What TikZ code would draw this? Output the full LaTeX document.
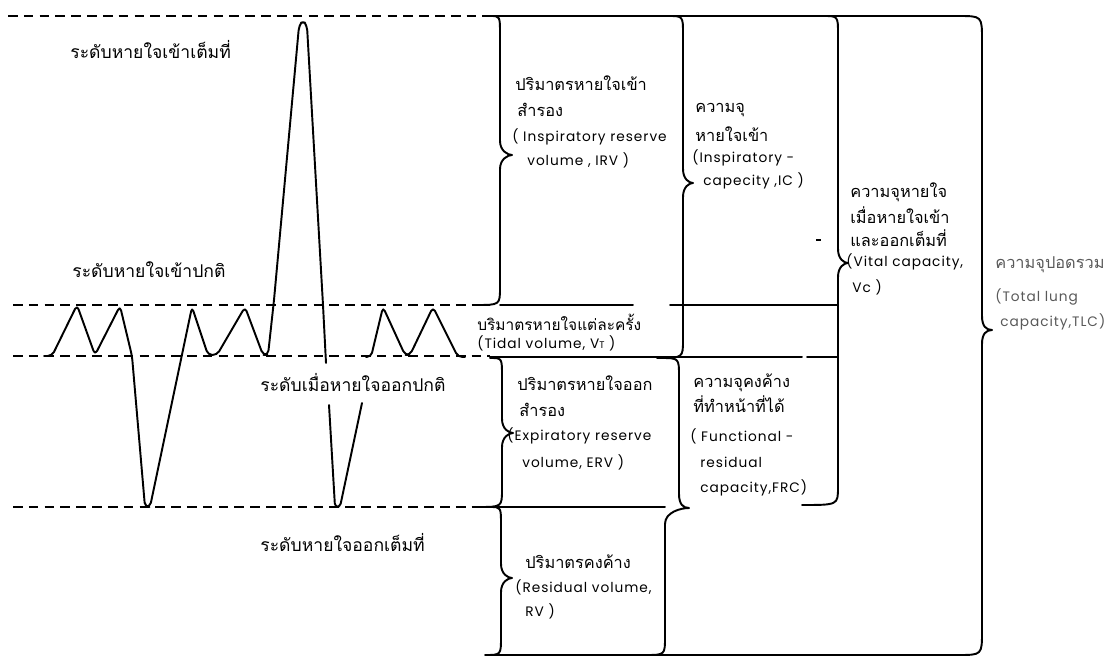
\documentclass[tikz,border=0pt]{standalone}
\usepackage{fontspec}
\setmainfont[Script=Thai]{Loma}
\newfontfamily\lat[LetterSpace=7]{Poppins}
\tikzset{
  ln/.style={line width=1.1pt, line join=round, line cap=round},
  dsh/.style={line width=1pt, dash pattern=on 5.5pt off 3.5pt},
  th/.style={anchor=west, inner sep=0pt, font=\fontsize{10}{12}\selectfont},
  thr/.style={anchor=west, inner sep=0pt, font=\fontsize{9.3}{11}\selectfont},
  en/.style={anchor=west, inner sep=0pt, font=\lat\fontsize{7.8}{9}\selectfont},
  tlc/.style={text=black!65},
}
% xtopend, xspine, xtip, ytop, ytip, ybot, xbotend
\newcommand\mybrace[7]{%
  \draw[ln] (#1,#4) .. controls (#2,#4) .. (#2,{#4+18}) -- (#2,{#5-14})
    .. controls (#2,{#5-4}) and ({#3-4},#5) .. (#3,#5)
    .. controls ({#3-4},#5) and (#2,{#5+4}) .. (#2,{#5+14}) -- (#2,{#6-18})
    .. controls (#2,#6) .. (#7,#6);}
\begin{document}
\begin{tikzpicture}[x=0.2mm,y=-0.2mm]
\useasboundingbox[fill=white] (0,0) rectangle (1116,658);
% dashed levels
\draw[dsh] (8,16) -- (490,16);
\draw[dsh] (13,305) -- (490,305);
\draw[dsh] (13,356) -- (490,356);
\draw[dsh] (13,507) -- (490,507);
% solid horizontal lines and the TLC bracket
\draw[ln] (490,16) -- (958,16) .. controls (982,16) .. (982,40) -- (982,316)
  .. controls (982,326) and (986,330) .. (992,330)
  .. controls (986,330) and (982,334) .. (982,344) -- (982,631)
  .. controls (982,655) .. (958,655) -- (490,655);
\draw[ln] (500,305) -- (633,305);
\draw[ln] (670,305) -- (838,305);
\draw[ln] (490,357) -- (802,357);
\draw[ln] (807,357) -- (838,357);
\draw[ln] (490,507) -- (665,507);
% braces
\mybrace{490}{500}{512}{16}{155}{305}{476}   % IRV
\mybrace{668}{683}{693}{16}{183}{358}{657}   % IC
\mybrace{490}{502}{513}{358}{433}{507}{478}  % ERV
\mybrace{490}{501}{512}{507}{578}{655}{485}  % RV
\mybrace{823}{838}{848}{16}{263}{505}{802}   % VC
% FRC brace (slanted lower part)
\draw[ln] (660,358) .. controls (679,358) .. (679,376) -- (679,494)
  .. controls (679,504) and (683,508) .. (689,508)
  .. controls (681,508) and (665,512) .. (665,524) -- (665,637)
  .. controls (665,655) .. (645,655);
% stray mark
\draw[line width=0.8pt] (816,240) -- (821,240);
% waveform
\draw[ln, rounded corners=2.5pt] (44,356) -- (52,356) -- (77,305) -- (95,355) -- (120,306)
  -- (132,356) -- (145,507) -- (150,507) -- (192,307) -- (208,355) -- (217,355)
  -- (245,307) -- (263,355) -- (268,355) -- (274,300) -- (299,26) -- (303,20)
  -- (307,26) -- (323,305) -- (326,363);
\draw[ln, rounded corners=2pt] (329,405) -- (335,507) -- (340,507) -- (362,403);
\draw[ln, rounded corners=2.5pt] (366,357) -- (371,357) -- (383,307) -- (405,355)
  -- (410,355) -- (433,307) -- (458,357) -- (465,357);
% left labels
\node[th] (l1) at (70,50) {ระดับหายใจเข้าเต็มที่};
\node[th] (l2) at (72,270) {ระดับหายใจเข้าปกติ};
\node[th] (l3) at (260,383) {ระดับเมื่อหายใจออกปกติ};
\node[th] (l4) at (260,543) {ระดับหายใจออกเต็มที่};
% IRV
\node[thr] (irv1) at (515,83) {ปริมาตรหายใจเข้า};
\node[thr] (irv2) at (517,110) {สำรอง};
\node[en] (irv3) at (512,137) {( Inspiratory reserve};
\node[en] (irv4) at (527,160) {volume , IRV )};
% IC
\node[thr] (ic1) at (695,110) {ความจุ};
\node[thr] (ic2) at (695,134) {หายใจเข้า};
\node[en] (ic3) at (692,158) {(Inspiratory -};
\node[en] (ic4) at (703,181) {capecity ,IC )};
% VT
\node[thr,font=\fontsize{8.8}{10}\selectfont] (vt1) at (477,322) {บริมาตรหายใจแต่ละครั้ง};
\node[en] (vt2) at (477,343) {(Tidal volume, V{\fontsize{5.5}{6}\selectfont T} )};
% ERV
\node[thr] (erv1) at (517,383) {ปริมาตรหายใจออก};
\node[thr] (erv2) at (519,410) {สำรอง};
\node[en] (erv3) at (507,436) {(Expiratory reserve};
\node[en] (erv4) at (522,462) {volume, ERV )};
% FRC
\node[thr] (frc1) at (693,383) {ความจุคงค้าง};
\node[thr] (frc2) at (693,404) {ที่ทำหน้าที่ได้};
\node[en] (frc3) at (690,436) {( Functional -};
\node[en] (frc4) at (700,462) {residual};
\node[en] (frc5) at (700,488) {capacity,FRC)};
% RV
\node[thr] (rv1) at (525,562) {ปริมาตรคงค้าง};
\node[en] (rv2) at (515,587) {(Residual volume,};
\node[en] (rv3) at (525,611) {RV )};
% VC
\node[thr] (vc1) at (850,192) {ความจุหายใจ};
\node[thr] (vc2) at (850,215) {เมื่อหายใจเข้า};
\node[thr] (vc3) at (850,238) {และออกเต็มที่};
\node[en] (vc4) at (846,262) {(Vital capacity,};
\node[en] (vc5) at (852,287) {Vc )};
% TLC
\node[thr,tlc] (tlc1) at (995,265) {ความจุปอดรวม};
\node[en,tlc] (tlc2) at (995,297) {(Total lung};
\node[en,tlc] (tlc3) at (1000,322) {capacity,TLC)};
\end{tikzpicture}
\end{document}
